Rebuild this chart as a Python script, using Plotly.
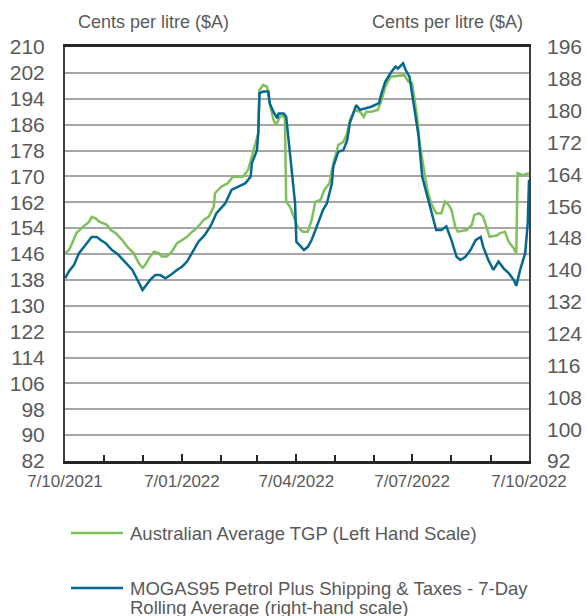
import pandas as pd
import plotly.graph_objects as go

start = pd.Timestamp("2021-10-07")
end = pd.Timestamp("2022-10-07")

# Australian Average TGP (left axis), days after 7/10/2021
tgp_days = [0, 3, 5, 9, 13, 16, 19, 21, 24, 27, 29, 33, 36, 40, 45, 50, 54, 58, 61, 63,
            67, 70, 74, 76, 80, 84, 88, 92, 96, 100, 102, 107, 109, 113, 117, 118, 123, 128,
            132, 140, 144, 147, 149, 152, 153, 156, 159, 161, 164, 166, 169, 172, 173, 174,
            177, 180, 183, 187, 191, 194, 197, 201, 204, 208, 211, 215, 219, 222, 224, 228,
            232, 235, 237, 241, 246, 249, 252, 256, 260, 264, 267, 270, 273, 277, 279, 282,
            285, 288, 292, 296, 299, 302, 304, 307, 309, 316, 320, 322, 326, 329, 332, 334,
            340, 342, 346, 349, 353, 355, 356, 360, 365]
tgp_vals = [146.2, 147.2, 148.8, 152.5, 154.0, 155.0, 156.0, 157.5, 157.0, 156.0, 155.6,
            155.0, 153.4, 152.4, 150.3, 147.8, 146.3, 143.2, 141.7, 142.6, 145.2, 146.7,
            146.2, 145.2, 145.2, 146.7, 149.3, 150.3, 151.3, 152.9, 153.4, 155.5, 156.5,
            157.5, 160.6, 164.8, 166.8, 167.9, 169.9, 169.9, 172.0, 176.1, 178.7, 183.3,
            196.7, 198.3, 197.7, 192.6, 187.4, 185.9, 188.4, 188.9, 187.4, 162.2, 160.6,
            157.5, 154.4, 152.9, 152.9, 156.5, 162.2, 162.7, 165.8, 167.9, 174.0, 179.7,
            180.7, 183.3, 187.4, 190.5, 190.0, 188.4, 190.0, 190.0, 190.5, 193.6, 197.7,
            200.8, 201.0, 201.0, 201.3, 199.3, 198.8, 188.4, 180.2, 173.0, 165.8, 161.7,
            158.6, 158.6, 162.2, 161.1, 159.6, 154.4, 152.9, 153.4, 155.0, 158.1, 158.6,
            157.5, 153.4, 151.3, 151.8, 152.4, 152.9, 149.8, 147.8, 146.2, 171.0, 170.4,
            171.0]

# MOGAS95 plus shipping & taxes, 7-day rolling average (right axis)
mogas_days = [0, 3, 7, 11, 15, 19, 21, 25, 28, 32, 37, 42, 47, 53, 57, 61, 63, 67, 71, 75,
              79, 83, 88, 92, 96, 100, 105, 110, 115, 119, 126, 131, 136, 142, 146, 147, 151,
              152, 153, 156, 160, 161, 164, 167, 168, 172, 174, 176, 178, 181, 182, 188, 191,
              194, 197, 203, 206, 210, 211, 215, 219, 222, 224, 229, 232, 236, 241, 247, 249,
              252, 256, 260, 262, 266, 268, 271, 274, 278, 281, 285, 289, 292, 296, 300, 304,
              308, 311, 315, 319, 323, 327, 329, 333, 337, 341, 345, 349, 353, 355, 358, 362,
              364, 365]
mogas_vals = [137.9, 139.6, 141.2, 144.2, 145.8, 147.5, 148.3, 148.3, 147.5, 146.7, 145.0,
              143.8, 142.1, 140.0, 137.5, 135.0, 135.8, 137.5, 138.7, 138.7, 137.9, 138.7,
              140.0, 140.8, 142.1, 144.2, 147.1, 148.8, 151.3, 154.2, 156.7, 160.1, 160.9,
              161.8, 163.4, 166.8, 170.1, 174.3, 184.4, 184.8, 184.8, 181.9, 179.7, 178.1,
              179.3, 179.3, 178.5, 171.8, 165.9, 156.7, 147.1, 145.0, 145.8, 147.5, 150.0,
              155.1, 156.7, 161.8, 165.9, 169.7, 170.1, 172.6, 176.8, 181.4, 180.2, 180.6,
              181.0, 181.9, 184.4, 187.3, 189.4, 191.1, 190.6, 191.9, 190.2, 188.5, 181.7,
              173.9, 163.4, 158.4, 153.4, 150.0, 150.0, 150.9, 147.5, 143.3, 142.5, 143.3,
              145.0, 147.5, 148.3, 145.8, 142.5, 140.0, 142.1, 140.4, 139.2, 137.5, 136.0,
              140.0, 144.2, 151.7, 162.6]

left_range = [82, 210]
right_range = [92, 196]

legend_lines = [
    ["Australian Average TGP (Left Hand Scale)"],
    ["MOGAS95 Petrol Plus Shipping & Taxes - 7-Day", "Rolling Average (right-hand scale)"],
]

green = "#80c05a"
blue = "#06688f"
txt = "#595959"
font = "Liberation Sans, Arial, sans-serif"

tgp_dates = start + pd.to_timedelta(tgp_days, unit="D")
mogas_dates = start + pd.to_timedelta(mogas_days, unit="D")

fig = go.Figure()
fig.add_trace(go.Scatter(x=tgp_dates, y=tgp_vals, mode="lines",
                         line=dict(color=green, width=2.5),
                         name=" ".join(legend_lines[0])))
fig.add_trace(go.Scatter(x=mogas_dates, y=mogas_vals, mode="lines", yaxis="y2",
                         line=dict(color=blue, width=2.5),
                         name=" ".join(legend_lines[1])))

fig.update_layout(
    width=587, height=616, autosize=False,
    margin=dict(l=65, r=58, t=47, b=155),
    plot_bgcolor="white", paper_bgcolor="white",
    font=dict(family=font, color=txt, size=17),
    showlegend=False,
    xaxis=dict(
        type="date", range=[start, end], automargin=False,
        tick0=start, dtick="M3", tickformat="%-d/%m/%Y",
        ticks="inside", ticklen=7, tickwidth=2, tickcolor="#262626",
        minor=dict(dtick="M1", tick0=start, ticks="inside", ticklen=6,
                   tickwidth=2, tickcolor="#262626", showgrid=False),
        showgrid=False, showline=True, linecolor="#262626", linewidth=2.5,
        mirror=True, ticklabelstandoff=3, tickfont=dict(size=17, color=txt),
    ),
    yaxis=dict(
        range=left_range, tick0=82, dtick=8, automargin=False,
        showgrid=True, gridcolor="#a6a6a6", gridwidth=2,
        showline=True, linecolor="#404040", linewidth=2, mirror=True,
        zeroline=False, ticks="", ticklabelstandoff=14,
        tickfont=dict(size=21, color=txt),
    ),
    yaxis2=dict(
        range=right_range, tick0=92, dtick=8, overlaying="y", side="right",
        automargin=False, showgrid=False, zeroline=False, ticks="",
        ticklabelstandoff=17, tickfont=dict(size=21, color=txt),
    ),
)


def px_x(p):
    return (p - 65) / 464


def px_y(p):
    return (461 - p) / 414


# axis unit labels
fig.add_annotation(text="Cents per litre ($A)", xref="paper", yref="paper",
                   x=px_x(76), y=px_y(22), xanchor="left", yanchor="middle",
                   showarrow=False, font=dict(size=18, color=txt))
fig.add_annotation(text="Cents per litre ($A)", xref="paper", yref="paper",
                   x=px_x(525), y=px_y(22), xanchor="right", yanchor="middle",
                   showarrow=False, font=dict(size=18, color=txt))

# legend drawn below the plot
for lines, color, ypx in zip(legend_lines, [green, blue], [533, 588]):
    fig.add_shape(type="line", xref="paper", yref="paper",
                  x0=px_x(71), x1=px_x(123), y0=px_y(ypx), y1=px_y(ypx),
                  line=dict(color=color, width=2.5))
    for i, line in enumerate(lines):
        fig.add_annotation(text=line, xref="paper", yref="paper",
                           x=px_x(128), y=px_y(ypx + 19 * i), xanchor="left",
                           yanchor="middle", showarrow=False,
                           font=dict(size=18.5, color=txt))

fig.write_html("out.html", config={"displayModeBar": False},
               post_script="document.body.style.margin='0';"
                           "document.body.style.overflow='hidden';")
